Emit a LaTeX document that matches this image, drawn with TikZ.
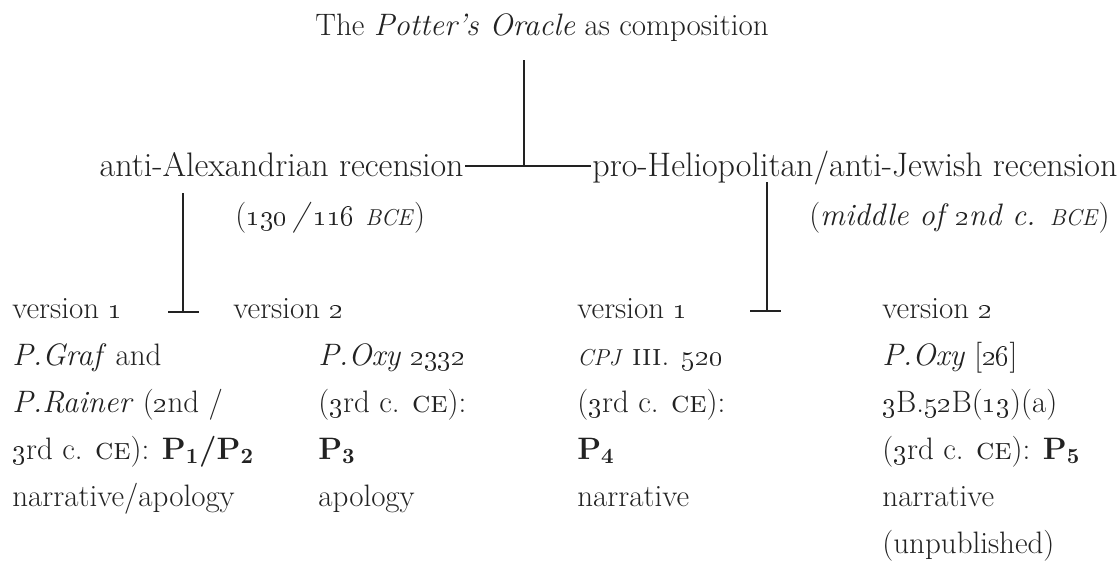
\documentclass[tikz,border=0pt]{standalone}
\usepackage{xcolor}
\definecolor{ink}{HTML}{222222}
\newcommand{\osn}[1]{\oldstylenums{#1}}
\newcommand{\smallcap}[1]{{\fontsize{11.5}{12}\selectfont #1}}
\tikzset{
  txt/.style={inner sep=0pt, text=ink, font=\fontsize{15.5}{23.5}\selectfont},
  rec/.style={txt, font=\fontsize{17}{20}\selectfont},
  col/.style={txt, align=left, anchor=base west},
  conn/.style={draw=ink, line width=0.9pt}
}
\begin{document}
\begin{tikzpicture}[x=0.5pt,y=-0.5pt]
\useasboundingbox (0,0) rectangle (1118,563);
% title and recensions
\node[txt, anchor=base] (title) at (542,35) {The \textit{Potter's Oracle} as composition};
\node[rec, anchor=base east] (anti) at (464,176) {anti-Alexandrian recension};
\node[rec, anchor=base west] (pro) at (592,176) {pro-Heliopolitan/anti-Jewish recension};
\node[txt, anchor=base west] (dateA) at (235,225) {(\textit{\osn{130}\,/\,\osn{116} \smallcap{BCE}})};
\node[txt, anchor=base east] (dateB) at (1110,225) {(\textit{middle of \osn{2}nd c. \smallcap{BCE}})};
% columns (base anchor = baseline of the last line)
\node[col] (v1a) at (12,506) {version \osn{1}\\
\textit{P.Graf} and\\
\textit{P.Rainer} (\osn{2}nd /\\
\osn{3}rd c. \textsc{ce}): \textbf{P\textsubscript{1}/P\textsubscript{2}}\\
narrative/apology};
\node[col] (v2a) at (233,318) {version \osn{2}};
\node[col] (v2ab) at (318,506) {\textit{P.Oxy} \osn{2332}\\
(\osn{3}rd c. \textsc{ce}):\\
\textbf{P\textsubscript{3}}\\
apology};
\node[col] (v1b) at (577,506) {version \osn{1}\\
\textit{\smallcap{CPJ}} \textsc{iii}. \osn{520}\\
(\osn{3}rd c. \textsc{ce}):\\
\textbf{P\textsubscript{4}}\\
narrative};
\node[col] (v2b) at (882,553) {version \osn{2}\\
\textit{P.Oxy} [\osn{26}]\\
\osn{3}B.\osn{52}B(\osn{13})(a)\\
(\osn{3}rd c. \textsc{ce}): \textbf{P\textsubscript{5}}\\
narrative\\
(unpublished)};
% connectors
\coordinate (top) at (524,60);
\coordinate (j) at (524,166);
\draw[conn] (top) -- (j);
\draw[conn] ([xshift=0.5pt]anti.east |- j) -- ([xshift=-0.5pt]pro.west |- j);
\coordinate (la) at (183,193);
\coordinate (lb) at (183,312);
\draw[conn] (la) -- (lb);
\draw[conn] ([xshift=-7.5pt]lb) -- ([xshift=8pt]lb);
\coordinate (ra) at (767,182);
\coordinate (rb) at (767,311);
\draw[conn] (ra) -- (rb);
\draw[conn] ([xshift=-8.5pt]rb) -- ([xshift=7pt]rb);
\end{tikzpicture}
\end{document}
